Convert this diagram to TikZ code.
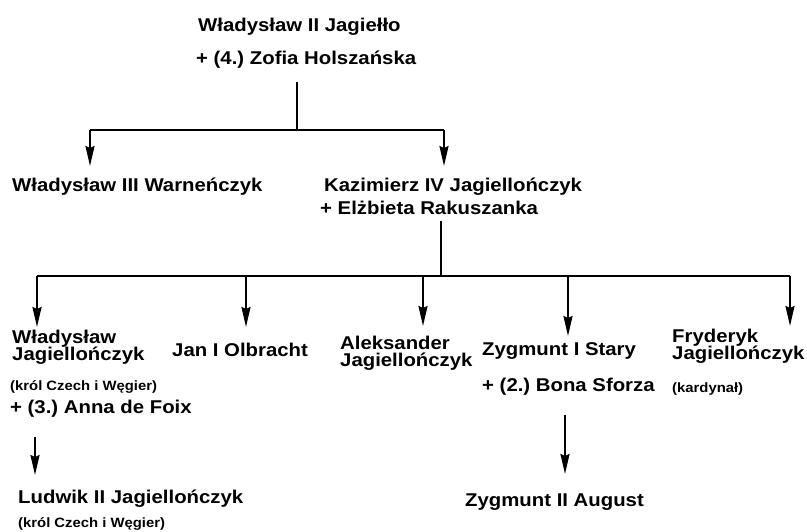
\documentclass[tikz,border=0pt]{standalone}
\usepackage{fontspec}
\setmainfont{Liberation Sans}[FakeStretch=1.1]
\usetikzlibrary{arrows.meta}
\frenchspacing
\newcommand\tightlines{\lineskiplimit=-20pt\relax\lineskip=0pt\relax}
\begin{document}
\begin{tikzpicture}[x=1pt,y=-1pt,
  nm/.style={anchor=base west,inner sep=0pt,align=left,font=\bfseries\fontsize{18.5}{16.5}\selectfont\tightlines},
  sm/.style={anchor=base west,inner sep=0pt,font=\bfseries\fontsize{13.5}{15}\selectfont},
  ln/.style={line width=2pt},
  ar/.style={ln,-{Stealth[length=20pt,width=9pt,inset=2pt]}}]
\useasboundingbox[fill=white] (0,0) rectangle (807,531);
% generation 1
\node[nm] (wj2) at (198,31) {Władysław II Jagiełło};
\node[nm] (zh) at (196,64) {+ (4.) Zofia Holszańska};
% generation 2
\node[nm] (w3) at (12,191) {Władysław III Warneńczyk};
\node[nm] (k4) at (324,191) {Kazimierz IV Jagiellończyk};
\node[nm] (er) at (320,214) {+ Elżbieta Rakuszanka};
% generation 3 (base = last line)
\node[nm] (wj) at (12,360) {Władysław\\Jagiellończyk};
\node[nm] (jo) at (172,356) {Jan I Olbracht};
\node[nm] (aj) at (340,366) {Aleksander\\Jagiellończyk};
\node[nm] (zs) at (482,355) {Zygmunt I Stary};
\node[nm] (fj) at (672,359) {Fryderyk\\Jagiellończyk};
\node[sm] (wjn) at (10,390) {(król Czech i Węgier)};
\node[nm] (af) at (10,413) {+ (3.) Anna de Foix};
\node[nm] (bs) at (482,391) {+ (2.) Bona Sforza};
\node[sm] (fjn) at (672,392) {(kardynał)};
% generation 4
\node[nm] (l2) at (18,503) {Ludwik II Jagiellończyk};
\node[sm] (l2n) at (18,527) {(król Czech i Węgier)};
\node[nm] (z2) at (465,506) {Zygmunt II August};
% junctions
\coordinate (a0) at (297,82);
\coordinate (a1) at (297,130);
\coordinate (aL) at (90,130);
\coordinate (aR) at (444,130);
\coordinate (tw3) at (90,166);
\coordinate (tk4) at (444,166);
\coordinate (b0) at (441,221);
\coordinate (b1) at (441,276);
\coordinate (bL) at (37,276);
\coordinate (bR) at (790,276);
\coordinate (bjo) at (246,276);
\coordinate (baj) at (423,276);
\coordinate (bzs) at (568,276);
\coordinate (twj) at (37,327);
\coordinate (tjo) at (246,327);
\coordinate (taj) at (423,326);
\coordinate (tzs) at (568,336);
\coordinate (tfj) at (790,326);
\coordinate (c0) at (35,437);
\coordinate (tl2) at (35,475);
\coordinate (d0) at (565,415);
\coordinate (tz2) at (565,474);
% connectors
\draw[ln] (a0) -- (a1);
\draw[ln] (aL) -- (aR);
\draw[ar] (aL) -- (tw3);
\draw[ar] (aR) -- (tk4);
\draw[ln] (b0) -- (b1);
\draw[ln] (bL) -- (bR);
\draw[ar] (bL) -- (twj);
\draw[ar] (bjo) -- (tjo);
\draw[ar] (baj) -- (taj);
\draw[ar] (bzs) -- (tzs);
\draw[ar] (bR) -- (tfj);
\draw[ar] (c0) -- (tl2);
\draw[ar] (d0) -- (tz2);
\end{tikzpicture}
\end{document}
